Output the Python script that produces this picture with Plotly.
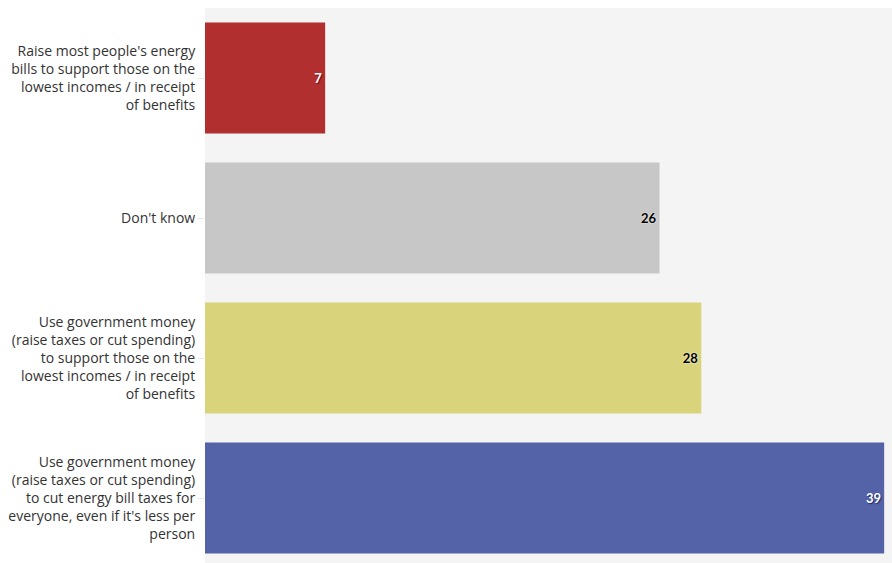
import plotly.graph_objects as go

categories = [
    "Raise most people's energy<br>bills to support those on the<br>lowest incomes / in receipt<br>of benefits",
    "Don't know",
    "Use government money<br>(raise taxes or cut spending)<br>to support those on the<br>lowest incomes / in receipt<br>of benefits",
    "Use government money<br>(raise taxes or cut spending)<br>to cut energy bill taxes for<br>everyone, even if it's less per<br>person",
]
values = [6.9, 26.1, 28.5, 39]
labels = ["7", "26", "28", "39"]
colors = ["#b22f30", "#c7c7c7", "#d9d47b", "#5462a8"]
text_colors = ["#ffffff", "#000000", "#000000", "#ffffff"]
shadows = ["1px 1px 1px #6a0f10", "0px 0px 2px #ffffff", "0px 0px 2px #ffffff", "1px 1px 1px #1e2a6a"]

fig = go.Figure()
for c, v, l, col, tc, sh in zip(categories, values, labels, colors, text_colors, shadows):
    fig.add_trace(go.Bar(
        x=[v], y=[c], orientation="h",
        marker=dict(color=col, line=dict(width=0)),
        text=[l], textposition="inside", insidetextanchor="end",
        textfont=dict(family="Lato", size=13, color=tc, weight="bold", shadow=sh),
        hoverinfo="skip", showlegend=False,
    ))

fig.update_layout(
    width=892, height=563,
    margin=dict(l=205, r=0, t=8, b=0),
    paper_bgcolor="#ffffff",
    plot_bgcolor="#f4f4f4",
    barmode="overlay",
    bargap=0.207,
    font=dict(family="Open Sans", size=14, color="#333333"),
    xaxis=dict(range=[0, 39.45], showgrid=False, zeroline=False,
               showticklabels=False, ticks="", fixedrange=True),
    yaxis=dict(categoryorder="array", categoryarray=categories,
               range=[3.464, -0.5], showgrid=False, zeroline=False,
               ticks="outside", ticklen=6, tickcolor="#e6e6e6",
               ticklabelstandoff=0, fixedrange=True,
               tickfont=dict(family="Open Sans", size=14, color="#333333")),
)

fig.write_html(
    "out.html",
    config={"displayModeBar": False},
    post_script="document.body.style.margin='0';document.body.style.overflow='hidden';",
)
